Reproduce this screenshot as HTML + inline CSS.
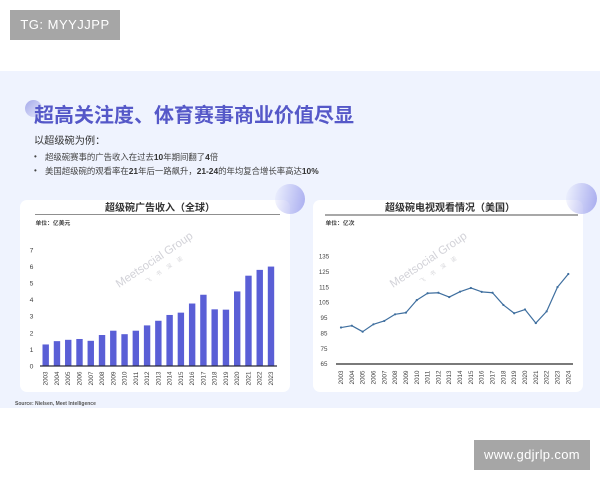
<!DOCTYPE html>
<html lang="zh">
<head>
<meta charset="utf-8">
<title>超高关注度、体育赛事商业价值尽显</title>
<style>
html,body{margin:0;padding:0;background:#fff;}
#stage{position:relative;width:600px;height:480px;overflow:hidden;background:#fff;font-family:"Liberation Sans","Noto Sans CJK SC",sans-serif;}
#stage div{position:absolute;white-space:nowrap;}
#soft{position:absolute;left:0;top:0;width:600px;height:480px;filter:blur(0.35px);}
.stamp{background:#a6a6a6;color:#fff;text-align:center;}
.circle{border-radius:50%;}
.card{background:#fff;border-radius:7px;}
.bullet-text{font-size:8.4px;color:#444;line-height:12px;}
.bullet-text b{color:#333;}
svg{position:absolute;left:0;top:0;}
</style>
</head>
<body>
<div id="stage">
<div id="soft">
  <div style="left:0;top:71px;width:600px;height:337px;background:#eff3fe;"></div>
  <div class="circle" style="left:25px;top:100px;width:17px;height:17px;background:linear-gradient(135deg,#a5a9ea,#e6e9fb);"></div>
  <div style="left:34px;top:104px;font-size:20px;line-height:24px;font-weight:700;color:#5558c8;">超高关注度、体育赛事商业价值尽显</div>
  <div style="left:34px;top:134.5px;font-size:10.2px;line-height:14px;color:#333;">以超级碗为例：</div>
  <div style="left:34px;top:151px;font-size:8px;line-height:12px;color:#444;">•</div>
  <div class="bullet-text" style="left:45px;top:151px;">超级碗赛事的广告收入在过去<b>10</b>年期间翻了<b>4</b>倍</div>
  <div style="left:34px;top:165px;font-size:8px;line-height:12px;color:#444;">•</div>
  <div class="bullet-text" style="left:45px;top:165px;">美国超级碗的观看率在<b>21</b>年后一路飙升，<b>21-24</b>的年均复合增长率高达<b>10%</b></div>

  <div class="card" style="left:20px;top:200px;width:270px;height:192px;"></div>
  <div class="card" style="left:313px;top:200px;width:270px;height:192px;"></div>

  <div class="circle" style="left:275px;top:184px;width:30px;height:30px;background:linear-gradient(100deg,rgba(230,233,252,0.2),#a9adf0);"></div>
  <div class="circle" style="left:566px;top:183px;width:31px;height:31px;background:linear-gradient(100deg,rgba(238,241,253,0.2),#a6aaee);"></div>

  <div style="left:105px;top:202px;font-size:10px;line-height:14px;font-weight:700;color:#333;">超级碗广告收入（全球）</div>
  <div style="left:35px;top:214px;width:245px;height:1px;background:#8f8f8f;"></div>
  <div style="left:35.5px;top:219.5px;font-size:5.8px;line-height:8px;font-weight:700;color:#444;">单位：亿美元</div>

  <div style="left:385px;top:202px;font-size:10px;line-height:14px;font-weight:700;color:#333;">超级碗电视观看情况（美国）</div>
  <div style="left:325px;top:214px;width:253px;height:1.5px;background:#a8a8a8;"></div>
  <div style="left:325.5px;top:219.5px;font-size:5.8px;line-height:8px;font-weight:700;color:#444;">单位：亿次</div>

  <svg id="charts" width="600" height="480" viewBox="0 0 600 480">
    <g transform="translate(119,288) rotate(-34)">
      <text x="0" y="0" font-size="11.5" fill="#d2d2d8" font-family="Liberation Sans, sans-serif">Meetsocial Group</text>
      <text x="26" y="12" font-size="5.5" letter-spacing="7" fill="#d6d6da" font-family="Liberation Sans, Noto Sans CJK SC, sans-serif">飞书深诺</text>
    </g>
    <g transform="translate(393,288) rotate(-34)">
      <text x="0" y="0" font-size="11.5" fill="#d2d2d8" font-family="Liberation Sans, sans-serif">Meetsocial Group</text>
      <text x="26" y="12" font-size="5.5" letter-spacing="7" fill="#d6d6da" font-family="Liberation Sans, Noto Sans CJK SC, sans-serif">飞书深诺</text>
    </g>
  </svg>

  <div style="left:15px;top:399.5px;font-size:5px;line-height:8px;font-weight:700;color:#555;">Source: Nielsen, Meet Intelligence</div>
</div>

<div class="stamp" style="left:10px;top:10px;width:110px;height:30px;line-height:30px;font-size:13px;letter-spacing:0.5px;">TG: MYYJJPP</div>
<div class="stamp" style="left:474px;top:440px;width:116px;height:30px;line-height:30px;font-size:13px;letter-spacing:0.35px;">www.gdjrlp.com</div>
</div>

<script>
const adYears = ['2003','2004','2005','2006','2007','2008','2009','2010','2011','2012','2013','2014','2015','2016','2017','2018','2019','2020','2021','2022','2023'];
const adRevenue = [1.3,1.5,1.58,1.63,1.52,1.87,2.13,1.92,2.13,2.45,2.73,3.08,3.22,3.77,4.3,3.42,3.4,4.5,5.45,5.8,6.0];
const adTicks = [0,1,2,3,4,5,6,7];
const viewYears = ['2003','2004','2005','2006','2007','2008','2009','2010','2011','2012','2013','2014','2015','2016','2017','2018','2019','2020','2021','2022','2023','2024'];
const viewers = [88.7,89.9,86,90.8,93,97.3,98.4,106.5,111,111.3,108.5,112,114.4,111.9,111.3,103.4,98,100.4,91.6,99.2,115,123.5];
const viewTicks = [65,75,85,95,105,115,125,135];

const NS = 'http://www.w3.org/2000/svg';
const svg = document.getElementById('charts');
function make(tag, attrs, parent) {
  const el = document.createElementNS(NS, tag);
  for (const k in attrs) el.setAttribute(k, attrs[k]);
  parent.appendChild(el);
  return el;
}
const FONT = '"Liberation Sans","Noto Sans CJK SC",sans-serif';

/* bar chart */
const barGroup = make('g', {}, svg);


const barX = i => 45.7 + i * (271 - 45.7) / (adYears.length - 1);
const barY = v => 366 - v * (366 - 250) / 7;
adTicks.forEach(t => {
  const label = make('text', {x: 31.5, y: barY(t) + 2.4, 'font-size': 6.8, 'text-anchor': 'middle', fill: '#444', 'font-family': FONT}, barGroup);
  label.textContent = t;
  
  
});
adRevenue.forEach((v, i) => {
  const bar = make('rect', {x: barX(i) - 3.2, y: barY(v), width: 6.4, height: barY(0) - barY(v), fill: '#5a5fd6'}, barGroup);
  
  
});
adYears.forEach((y, i) => {
  const label = make('text', {x: 0, y: 0, transform: `translate(${barX(i) + 2},378.5) rotate(-90)`, 'font-size': 6.2, 'text-anchor': 'middle', fill: '#444', 'font-family': FONT}, barGroup);
  label.textContent = y;
  
  
});
const barAxis = make('line', {x1: 40, x2: 277, y1: barY(0), y2: barY(0), stroke: '#2a2a3a', 'stroke-width': 1.2}, barGroup);



/* line chart */
const lineGroup = make('g', {}, svg);


const lineX = i => 341 + i * (568.3 - 341) / (viewYears.length - 1);
const lineY = v => 364 - (v - 65) * (364 - 256.3) / 70;
viewTicks.forEach(t => {
  const label = make('text', {x: 324, y: lineY(t) + 2.2, 'font-size': 6.2, 'text-anchor': 'middle', fill: '#444', 'font-family': FONT}, lineGroup);
  label.textContent = t;
  
  
});
const lineAxis = make('line', {x1: 336, x2: 573, y1: lineY(65), y2: lineY(65), stroke: '#2a2a2a', 'stroke-width': 1.2}, lineGroup);


viewYears.forEach((y, i) => {
  const label = make('text', {x: 0, y: 0, transform: `translate(${lineX(i) + 2},377.5) rotate(-90)`, 'font-size': 6.2, 'text-anchor': 'middle', fill: '#444', 'font-family': FONT}, lineGroup);
  label.textContent = y;
  
  
});
const points = viewers.map((v, i) => lineX(i).toFixed(2) + ',' + lineY(v).toFixed(2)).join(' ');
const series = make('polyline', {points: points, fill: 'none', stroke: '#3f6f9f', 'stroke-width': 1.2, 'stroke-linejoin': 'round'}, lineGroup);


viewers.forEach((v, i) => {
  const dot = make('circle', {cx: lineX(i), cy: lineY(v), r: 1.1, fill: '#3f6f9f'}, lineGroup);
  
  
});
</script>
</body>
</html>
